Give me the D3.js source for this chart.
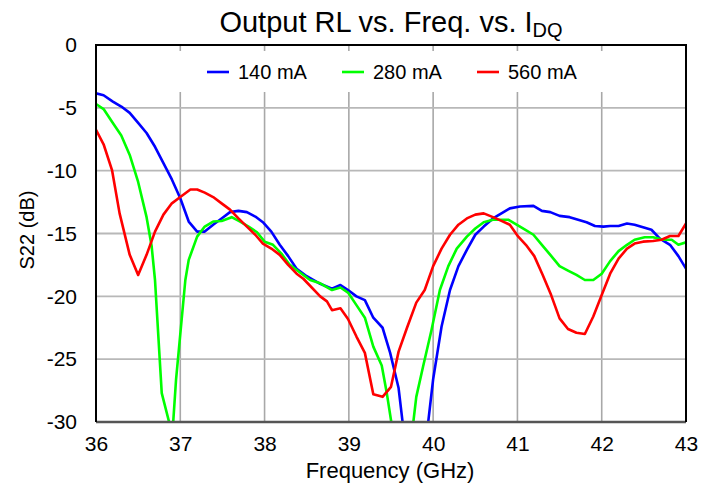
<!DOCTYPE html>
<html><head><meta charset="utf-8">
<script src="https://cdn.jsdelivr.net/npm/d3@7"></script>
<style>body{margin:0;background:#fff;}svg{display:block;font-family:"Liberation Sans",Arial,sans-serif;}</style>
</head><body><svg id="c" width="701" height="487"></svg>
<script>
const xTicks = [36,37,38,39,40,41,42,43];
const yTicks = [0,-5,-10,-15,-20,-25,-30];
const seriesNames = ["140 mA","280 mA","560 mA"];
const seriesColors = ["#0000ff","#00ff00","#ff0000"];

const freq140 = [36.0,36.09,36.2,36.3,36.4,36.5,36.6,36.7,36.8,36.9,37.0,37.1,37.2,37.29,37.39,37.49,37.59,37.69,37.79,37.89,37.98,38.08,38.18,38.28,38.38,38.5,38.66,38.8,38.9,38.99,39.09,39.19,39.29,39.4,39.49,39.59,39.69,39.89,40.0,40.1,40.2,40.3,40.4,40.5,40.6,40.71,40.81,40.91,41.03,41.19,41.29,41.39,41.5,41.62,41.72,41.82,41.92,42.02,42.1,42.2,42.3,42.39,42.49,42.59,42.69,42.81,42.91,43.0];
const s140 = [-3.85,-4.0,-4.5,-4.9,-5.4,-6.2,-7.0,-8.1,-9.4,-10.7,-12.2,-14.05,-14.85,-14.85,-14.3,-13.8,-13.3,-13.2,-13.3,-13.65,-14.1,-14.85,-15.9,-16.8,-17.8,-18.4,-19.0,-19.4,-19.1,-19.5,-20.0,-20.3,-21.7,-22.5,-24.5,-27.3,-33,-33,-26.6,-22.4,-19.5,-17.6,-16.3,-15.1,-14.45,-13.8,-13.4,-13.0,-12.85,-12.8,-13.2,-13.3,-13.6,-13.7,-13.9,-14.1,-14.4,-14.45,-14.4,-14.4,-14.2,-14.3,-14.5,-14.7,-15.4,-15.9,-16.8,-17.8];

const freq280 = [36.0,36.09,36.19,36.3,36.4,36.5,36.6,36.66,36.7,36.78,36.89,36.91,36.95,37.06,37.1,37.2,37.29,37.39,37.49,37.61,37.71,37.81,37.91,38.0,38.1,38.2,38.3,38.4,38.54,38.66,38.8,38.9,38.99,39.09,39.19,39.29,39.39,39.45,39.55,39.73,39.8,39.88,39.98,40.08,40.18,40.28,40.4,40.5,40.6,40.71,40.89,40.99,41.09,41.19,41.29,41.39,41.5,41.6,41.7,41.8,41.9,42.0,42.1,42.2,42.3,42.39,42.51,42.61,42.73,42.83,42.91,43.0];
const s280 = [-4.7,-5.1,-6.1,-7.2,-8.75,-10.9,-13.7,-16.0,-18.7,-27.7,-30.6,-30.6,-26.6,-18.7,-17.1,-15.25,-14.45,-14.05,-14.0,-13.7,-14.05,-14.45,-14.9,-15.65,-15.9,-16.6,-17.5,-18.0,-18.7,-18.96,-19.5,-19.3,-19.7,-20.7,-21.7,-24.0,-25.5,-27.7,-32,-32,-28.0,-25.6,-22.7,-19.5,-17.6,-16.2,-15.25,-14.6,-14.1,-13.9,-13.9,-14.3,-14.7,-15.1,-15.9,-16.7,-17.6,-17.95,-18.3,-18.7,-18.7,-18.2,-17.2,-16.4,-15.9,-15.5,-15.3,-15.3,-15.5,-15.5,-15.9,-15.7];

const freq560 = [36.0,36.09,36.19,36.28,36.4,36.5,36.6,36.7,36.8,36.9,37.0,37.12,37.2,37.29,37.39,37.49,37.59,37.69,37.79,37.89,37.98,38.08,38.18,38.28,38.38,38.46,38.66,38.74,38.8,38.9,38.99,39.09,39.19,39.29,39.4,39.5,39.59,39.69,39.8,39.9,40.0,40.1,40.2,40.3,40.4,40.5,40.6,40.71,40.81,40.91,41.01,41.1,41.2,41.3,41.4,41.5,41.6,41.7,41.8,41.9,42.0,42.1,42.2,42.3,42.39,42.49,42.61,42.71,42.81,42.91,43.0];
const s560 = [-6.75,-7.9,-9.95,-13.4,-16.7,-18.3,-16.7,-14.85,-13.5,-12.6,-12.1,-11.5,-11.5,-11.75,-12.1,-12.6,-13.1,-13.8,-14.45,-15.1,-15.8,-16.2,-16.7,-17.5,-18.2,-18.6,-20.0,-20.4,-21.1,-20.95,-21.8,-23.2,-24.5,-27.8,-28.0,-27.2,-24.4,-22.5,-20.5,-19.5,-17.6,-16.2,-15.1,-14.3,-13.8,-13.5,-13.4,-13.7,-14.0,-14.3,-15.25,-15.9,-16.8,-18.3,-19.9,-21.75,-22.6,-22.9,-23.0,-21.6,-19.9,-18.2,-17.0,-16.2,-15.8,-15.65,-15.6,-15.5,-15.2,-15.2,-14.2];

const svg = d3.select("#c");
const L = 96, R = 686, T = 45, B = 422;
const x = d3.scaleLinear().domain([36,43]).range([L,R]);
const y = d3.scaleLinear().domain([0,-30]).range([T,B]);
const FONT = "Liberation Sans, Arial, sans-serif";

svg.append("defs").append("clipPath").attr("id","clip")
  .append("rect").attr("x",L).attr("y",T).attr("width",R-L).attr("height",B-T);

// grid
const grid = svg.append("g");
grid.selectAll(".vg").data(xTicks.slice(1,-1)).join("line")
  .attr("x1",d=>x(d)).attr("x2",d=>x(d)).attr("y1",T).attr("y2",B)
  .attr("stroke","#a8a8a8").attr("stroke-width",1.6);
grid.selectAll(".hg").data(yTicks.slice(1,-1)).join("line")
  .attr("x1",L).attr("x2",R).attr("y1",d=>y(d)).attr("y2",d=>y(d))
  .attr("stroke","#b8b8b8").attr("stroke-width",1.8);

// legend background
svg.append("rect").attr("x",L+2).attr("y",51).attr("width",R-L-4).attr("height",41).attr("fill","#fff");

// lines
const freqs = [freq140,freq280,freq560];
const vals = [s140,s280,s560];
const line = d3.line().x(d=>x(d[0])).y(d=>y(d[1]));
const lg = svg.append("g").attr("clip-path","url(#clip)");
vals.forEach((v,i)=>{
  lg.append("path").datum(freqs[i].map((f,j)=>[f,v[j]]))
    .attr("d",line).attr("fill","none").attr("stroke",seriesColors[i])
    .attr("stroke-width",2.6).attr("stroke-linejoin","round");
});

// frame
svg.append("line").attr("x1",L).attr("x2",R).attr("y1",B).attr("y2",B).attr("stroke","#555").attr("stroke-width",2.4);
svg.append("path").attr("d",`M${L},${B}V${T}H${R}V${B}`).attr("fill","none").attr("stroke","#000").attr("stroke-width",2);

// axes labels
const xAxis = d3.axisBottom(x).tickValues(xTicks).tickSize(0).tickPadding(14).tickFormat(d3.format("d"));
const gx = svg.append("g").attr("transform",`translate(0,${B})`).call(xAxis);
gx.select(".domain").remove();
gx.selectAll("text").attr("font-size",21).attr("fill","#000").attr("font-family",FONT);

const yAxis = d3.axisLeft(y).tickValues(yTicks).tickSize(0).tickPadding(19).tickFormat(d=>d===0?"0":"-"+Math.abs(d));
const gy = svg.append("g").attr("transform",`translate(${L},0)`).call(yAxis);
gy.select(".domain").remove();
gy.selectAll("text").attr("font-size",21).attr("fill","#000").attr("font-family",FONT);

svg.append("text").attr("x",390).attr("y",478).attr("text-anchor","middle").attr("font-size",22).text("Frequency (GHz)");
svg.append("text").attr("transform","translate(34,230) rotate(-90)").attr("text-anchor","middle").attr("font-size",20).text("S22 (dB)");

const title = svg.append("text").attr("x",391).attr("y",32).attr("text-anchor","middle").attr("font-size",29);
title.append("tspan").text("Output RL vs. Freq. vs. I");
title.append("tspan").attr("font-size",20).attr("dy",5).text("DQ");

// legend
const legX = [207,342,477];
seriesNames.forEach((n,i)=>{
  svg.append("line").attr("x1",legX[i]).attr("x2",legX[i]+22).attr("y1",72).attr("y2",72)
    .attr("stroke",seriesColors[i]).attr("stroke-width",2.6);
  svg.append("text").attr("x",legX[i]+31).attr("y",79).attr("font-size",20).text(n);
});
</script></body></html>
